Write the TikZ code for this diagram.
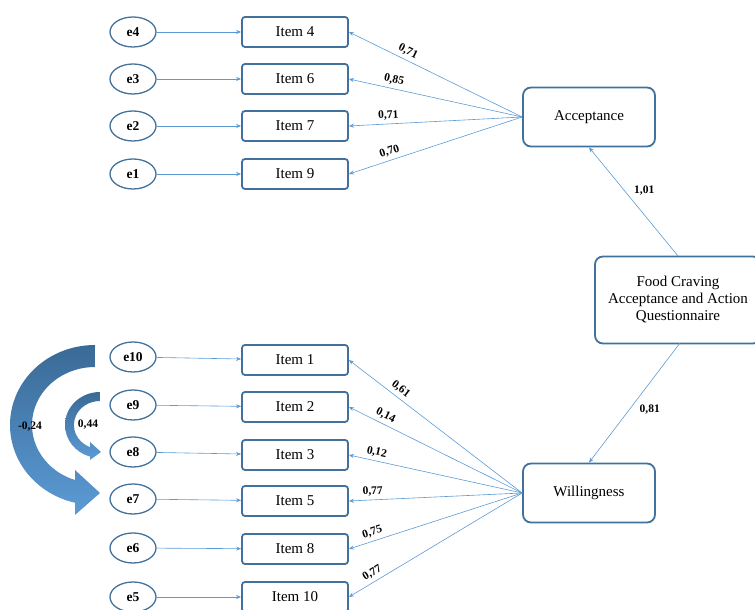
\documentclass[tikz,border=0pt]{standalone}
\usepackage{fontspec}
\setmainfont{Liberation Serif}
\usetikzlibrary{arrows.meta,shapes.geometric}
\definecolor{boxblue}{HTML}{41719C}
\definecolor{lineblue}{HTML}{5B9BD5}
\definecolor{darkband}{HTML}{3A6A96}

\begin{document}
\begin{tikzpicture}[x=1pt,y=1pt,
    errnode/.style={ellipse,draw=boxblue,line width=1.3pt,minimum width=46pt,minimum height=30pt,inner sep=0pt,font=\fontsize{13.5}{15}\selectfont\bfseries},
    itembox/.style={rectangle,rounded corners=3pt,draw=boxblue,line width=1.8pt,minimum width=106pt,minimum height=30pt,font=\fontsize{15}{17}\selectfont},
    factorbox/.style={rectangle,rounded corners=8pt,draw=boxblue,line width=1.8pt,minimum width=132pt,minimum height=59pt,font=\fontsize{15}{17}\selectfont},
    conn/.style={draw=lineblue,line width=0.6pt,-{Stealth[length=5pt,width=4pt]}},
    load/.style={font=\fontsize{11.5}{13}\selectfont\bfseries,sloped,above,inner sep=3.5pt}]
    \useasboundingbox (0,0) rectangle (755,610);

    % error terms
    \node[errnode] (e4) at (133,578) {e4};
    \node[errnode] (e3) at (133,531) {e3};
    \node[errnode] (e2) at (133,484) {e2};
    \node[errnode] (e1) at (133,436) {e1};
    \node[errnode] (e10) at (133,253) {e10};
    \node[errnode] (e9) at (133,205) {e9};
    \node[errnode] (e8) at (133,158) {e8};
    \node[errnode] (e7) at (133,111) {e7};
    \node[errnode] (e6) at (133,62) {e6};
    \node[errnode] (e5) at (133,13) {e5};

    % items
    \node[itembox] (i4) at (295,578) {Item 4};
    \node[itembox] (i6) at (295,531) {Item 6};
    \node[itembox] (i7) at (295,484) {Item 7};
    \node[itembox] (i9) at (295,436) {Item 9};
    \node[itembox] (i1) at (295,250) {Item 1};
    \node[itembox] (i2) at (295,203) {Item 2};
    \node[itembox] (i3) at (295,155) {Item 3};
    \node[itembox] (i5) at (295,109) {Item 5};
    \node[itembox] (i8) at (295,61) {Item 8};
    \node[itembox] (i10) at (295,13) {Item 10};

    % factors
    \node[factorbox] (acc) at (589,493) {Acceptance};
    \node[factorbox] (will) at (589,117) {Willingness};
    \node[factorbox,minimum width=166pt,minimum height=87pt,align=center] (fcaaq) at (678,310) {Food Craving\\Acceptance and Action\\Questionnaire};

    % errors to items
    \draw[conn] (e4) -- (i4);
    \draw[conn] (e3) -- (i6);
    \draw[conn] (e2) -- (i7);
    \draw[conn] (e1) -- (i9);
    \draw[conn] (e10) -- (i1);
    \draw[conn] (e9) -- (i2);
    \draw[conn] (e8) -- (i3);
    \draw[conn] (e7) -- (i5);
    \draw[conn] (e6) -- (i8);
    \draw[conn] (e5) -- (i10);

    % loadings
    \draw[conn] (acc.west) -- node[load,pos=0.68] {0,71} (i4.east);
    \draw[conn] (acc.west) -- node[load,pos=0.75] {0,85} (i6.east);
    \draw[conn] (acc.west) -- node[load,pos=0.77] {0,71} (i7.east);
    \draw[conn] (acc.west) -- node[load,pos=0.75] {0,70} (i9.east);
    \draw[conn] (will.west) -- node[load,pos=0.73] {0,61} (i1.east);
    \draw[conn] (will.west) -- node[load,pos=0.81] {0,14} (i2.east);
    \draw[conn] (will.west) -- node[load,pos=0.85] {0,12} (i3.east);
    \draw[conn] (will.west) -- node[load,pos=0.86] {0,77} (i5.east);
    \draw[conn] (will.west) -- node[load,pos=0.85] {0,75} (i8.east);
    \draw[conn] (will.west) -- node[load,pos=0.84] {0,77} (i10.east);

    \coordinate (ftop) at (678,354);
    \coordinate (fbot) at (680,267);
    \draw[conn] (ftop) -- node[font=\fontsize{11.5}{13}\selectfont\bfseries,right=6pt,pos=0.6] {1,01} (acc.south);
    \draw[conn] (fbot) -- node[font=\fontsize{11.5}{13}\selectfont\bfseries,right=7pt,pos=0.56] {0,81} (will.north);

    % correlated errors
    \shade[top color=darkband,bottom color=lineblue]
        (95,265) arc[start angle=90,end angle=256.4,x radius=85,y radius=80]
        -- (75,95) -- (100,117) -- (75,140) -- (75,130)
        arc[start angle=251.5,end angle=90,x radius=63,y radius=58] -- cycle;
    \shade[top color=darkband,bottom color=lineblue]
        (100,218) arc[start angle=90,end angle=253.4,x radius=35,y radius=33]
        -- (90,150) -- (101,158) -- (90,168) -- (90,162.8)
        arc[start angle=247.6,end angle=90,x radius=26,y radius=24] -- cycle;
    \node[font=\fontsize{11.5}{13}\selectfont\bfseries] (r1) at (30,183) {-0,24};
    \node[font=\fontsize{11.5}{13}\selectfont\bfseries] (r2) at (88,185) {0,44};
\end{tikzpicture}
\end{document}
